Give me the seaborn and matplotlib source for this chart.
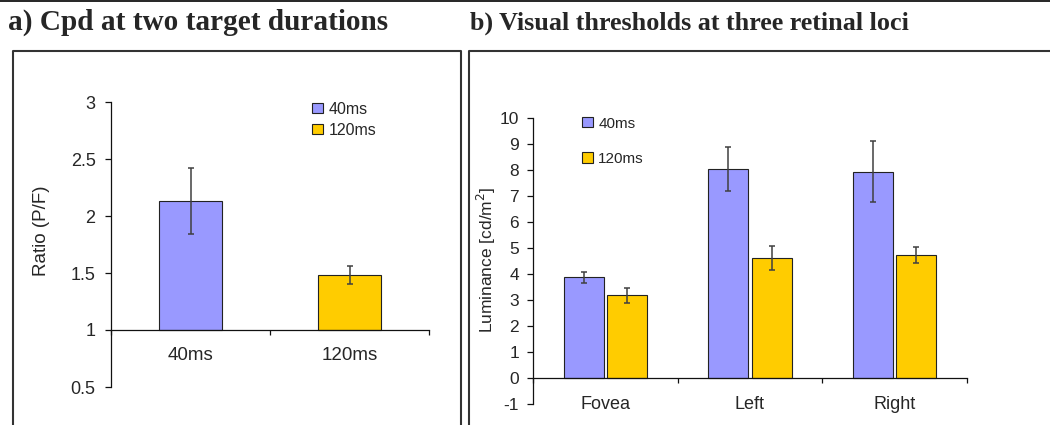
import pandas as pd
import matplotlib
matplotlib.use('Agg')
import matplotlib.pyplot as plt
from matplotlib.patches import Patch
from matplotlib.lines import Line2D
from matplotlib.ticker import FormatStrFormatter, MultipleLocator
import seaborn as sns

# panel a: Cpd ratio at two target durations
durations = ['40ms', '120ms']
ratio_mean = [2.13, 1.48]
ratio_err = [0.29, 0.08]

# panel b: luminance thresholds at three retinal loci
loci = ['Fovea', 'Left', 'Right']
lum_40 = [3.87, 8.04, 7.94]
lum_40_err = [0.20, 0.83, 1.18]
lum_120 = [3.18, 4.60, 4.72]
lum_120_err = [0.28, 0.46, 0.31]

colors = {'40ms': '#9999FF', '120ms': '#FFCC00'}
edge = '#222222'
err_col = '#404040'

sns.set_style('ticks')
plt.rcParams['font.family'] = ['Liberation Sans', 'DejaVu Sans']

W, H = 1050, 425
fig = plt.figure(figsize=(10.5, 4.25), dpi=100)


def px_box(l, t, r, b):
    return [l / W, 1 - b / H, (r - l) / W, (b - t) / H]


def style_axis(ax, ylo, yhi, base, ncat, step, tsize, csize, ypad, xpad):
    ax.set_xlim(-0.5, ncat - 0.5)
    ax.set_ylim(ylo, yhi)
    for s in ['top', 'right']:
        ax.spines[s].set_visible(False)
    for s in ['left', 'bottom']:
        ax.spines[s].set_color('#111111')
        ax.spines[s].set_linewidth(0.9)
    ax.spines['bottom'].set_position(('data', base))
    ax.spines['left'].set_bounds(ylo, yhi)
    ax.yaxis.set_major_locator(MultipleLocator(step))
    ax.yaxis.set_major_formatter(FormatStrFormatter('%g'))
    ax.set_xticks(range(ncat))
    ax.set_xticks([i - 0.5 for i in range(ncat + 1)], minor=True)
    ax.tick_params(axis='x', which='major', length=0, pad=xpad, labelsize=csize)
    ax.tick_params(axis='x', which='minor', length=3.6, width=0.9,
                   direction='out', color='#111111', bottom=True)
    ax.tick_params(axis='y', length=4.6, width=0.9, direction='out',
                   color='#111111', pad=ypad, labelsize=tsize, left=True)
    ax.set_xlabel('')


def add_errors(ax, values, errs):
    # patches come hue-major from seaborn, same order as values
    xs = [p.get_x() + p.get_width() / 2 for p in ax.patches]
    ax.errorbar(xs, values, yerr=errs, fmt='none', ecolor=err_col,
                elinewidth=1.1, capsize=2.3, capthick=1.1, zorder=5)


# ---- panel a ----
ax1 = fig.add_axes(px_box(111, 102, 429, 387))
df_a = pd.DataFrame({'duration': durations, 'ratio': ratio_mean})
sns.barplot(data=df_a, x='duration', y='ratio', hue='duration',
            order=durations, hue_order=durations, palette=colors,
            saturation=1, width=0.4, edgecolor=edge, linewidth=0.8,
            errorbar=None, legend=False, ax=ax1)
# bars start at the axis crossing (1)
for p in ax1.patches:
    p.set_height(p.get_height() - 1)
    p.set_y(1)
add_errors(ax1, ratio_mean, ratio_err)
style_axis(ax1, 0.5, 3, 1, 2, 0.5, 13, 13.5, 6.5, 12.5)
ax1.set_ylabel('Ratio (P/F)', fontsize=13.5)
ax1.yaxis.set_label_coords((50 - 111) / 318, (387 - 231) / 285)

# ---- panel b ----
ax2 = fig.add_axes(px_box(533, 118, 967, 404))
df_b = pd.DataFrame({'locus': loci * 2,
                     'duration': ['40ms'] * 3 + ['120ms'] * 3,
                     'lum': lum_40 + lum_120})
sns.barplot(data=df_b, x='locus', y='lum', hue='duration',
            order=loci, hue_order=durations, palette=colors, saturation=1,
            width=0.6, gap=0.08, edgecolor=edge, linewidth=0.8,
            errorbar=None, legend=False, ax=ax2)
add_errors(ax2, lum_40 + lum_120, lum_40_err + lum_120_err)
style_axis(ax2, -1, 10, 0, 3, 1, 12.5, 13, 5.5, 13)
ax2.set_ylabel('Luminance [cd/m$^2$]', fontsize=12.5)
ax2.yaxis.set_label_coords((498 - 533) / 434, (404 - 260) / 286)

# legends
handles = [Patch(facecolor=colors[d], edgecolor=edge, linewidth=0.8)
           for d in durations]
fig.legend(handles, durations, loc='upper left',
           bbox_to_anchor=(312 / W, 1 - 101.5 / H), frameon=False,
           borderpad=0, borderaxespad=0, fontsize=11.5, handlelength=0.7,
           handleheight=0.65, handletextpad=0.35, labelspacing=0.38)
fig.legend(handles, durations, loc='upper left',
           bbox_to_anchor=(582 / W, 1 - 116.5 / H), frameon=False,
           borderpad=0, borderaxespad=0, fontsize=11, handlelength=0.72,
           handleheight=0.68, handletextpad=0.35, labelspacing=1.4)

# titles
title_kw = dict(family=['Liberation Serif', 'DejaVu Serif'], weight='bold',
                va='baseline', ha='left')
fig.text(8 / W, 1 - 30 / H, 'a) Cpd at two target durations', size=21.1, **title_kw)
fig.text(470 / W, 1 - 30 / H, 'b) Visual thresholds at three retinal loci',
         size=18.8, **title_kw)

# panel frames and top rule
frame_kw = dict(color='#333333', linewidth=1.5, transform=fig.transFigure)


def fig_line(xs, ys, **kw):
    fig.add_artist(Line2D([x / W for x in xs], [1 - y / H for y in ys], **kw))


fig_line([0, W], [0.5, 0.5], color='#000000', linewidth=1.2, transform=fig.transFigure)
fig_line([12.5, 12.5, 460.5, 460.5], [H + 5, 51, 51, H + 5], **frame_kw)
fig_line([469, 469, W + 5], [H + 5, 51, 51], **frame_kw)

fig.savefig('out.png', dpi=100)
